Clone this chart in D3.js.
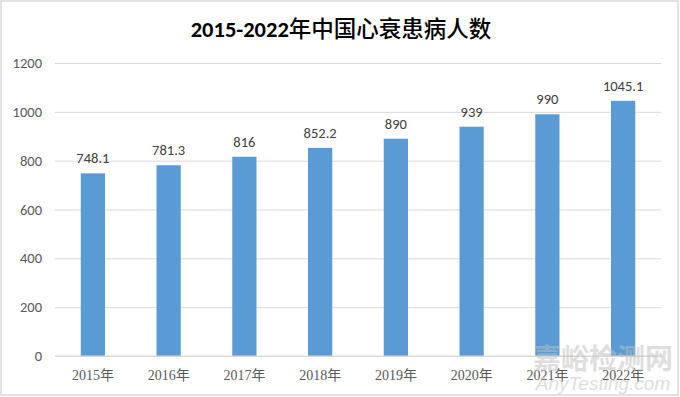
<!DOCTYPE html>
<html><head><meta charset="utf-8">
<script src="https://cdn.jsdelivr.net/npm/d3@7"></script>
<style>body{margin:0;background:#fff}svg{display:block}</style>
</head><body>
<script>
const categories = ["2015年","2016年","2017年","2018年","2019年","2020年","2021年","2022年"];
const values = [748.1, 781.3, 816, 852.2, 890, 939, 990, 1045.1];
const labels = ["748.1","781.3","816","852.2","890","939","990","1045.1"];
const yTicks = [0,200,400,600,800,1000,1200];
const titleLatin = "2015-2022";
const titleCJK = "年中国心衰患病人数";

const W = 680, H = 397;
const svg = d3.select("body").append("svg").attr("width", W).attr("height", H);
svg.append("rect").attr("x",1).attr("y",1).attr("width",W-3).attr("height",H-3)
  .attr("fill","#fff").attr("stroke","#d9d9d9").attr("stroke-width",1.5);

const fontLat = "Calibri, Carlito, 'Liberation Sans', 'Noto Sans CJK SC', sans-serif";
const x = d3.scaleBand().domain(categories).range([55, 661]).paddingInner(0.68).paddingOuter(0.34);
const y = d3.scaleLinear().domain([0,1200]).range([356, 63]);

const t = svg.append("text").attr("x", 341).attr("y", 37).attr("text-anchor","middle")
  .attr("font-size", 22.5).attr("fill","#000");
t.append("tspan").attr("font-family","Calibri, Carlito, sans-serif").attr("font-weight","bold").text(titleLatin);
t.append("tspan").attr("font-family","'Noto Sans CJK SC', sans-serif").attr("font-weight",500).text(titleCJK);

const yAxis = d3.axisLeft(y).tickValues(yTicks).tickFormat(d3.format("d")).tickSize(-(661-55)).tickPadding(13);
const gy = svg.append("g").attr("transform","translate(55,0)").call(yAxis);
gy.select(".domain").remove();
gy.selectAll(".tick line").attr("stroke","#d9d9d9").attr("stroke-width",1);
gy.selectAll(".tick text").attr("font-family", fontLat).attr("font-size",14.5).attr("fill","#595959");

svg.append("g").selectAll("rect").data(values).join("rect")
  .attr("x",(d,i)=>x(categories[i])).attr("width",x.bandwidth())
  .attr("y",d=>y(d)).attr("height",d=>y(0)-y(d)).attr("fill","#5b9bd5");

svg.append("line").attr("x1",55).attr("x2",661).attr("y1",y(0)).attr("y2",y(0))
  .attr("stroke","#d9d9d9").attr("stroke-width",1);

svg.append("g").selectAll("text").data(values).join("text")
  .attr("x",(d,i)=>x(categories[i])+x.bandwidth()/2).attr("y",d=>y(d)-10)
  .attr("text-anchor","middle").attr("font-family",fontLat).attr("font-size",14.5).attr("fill","#404040")
  .text((d,i)=>labels[i]);

const xAxis = d3.axisBottom(x).tickSize(0).tickPadding(14);
const gx = svg.append("g").attr("transform",`translate(0,${y(0)})`).call(xAxis);
gx.select(".domain").remove();
gx.selectAll(".tick text").attr("font-family","'Liberation Serif','Noto Sans CJK SC', serif").attr("font-size",14).attr("fill","#595959");

// watermark
svg.append("text").attr("x",603).attr("y",369).attr("text-anchor","middle")
  .attr("font-family","'Noto Sans CJK SC', sans-serif").attr("font-size",28).attr("font-weight","bold")
  .attr("fill","#bfbfbf").attr("opacity",0.5).text("嘉峪检测网");
svg.append("text").attr("x",603).attr("y",390).attr("text-anchor","middle")
  .attr("font-family","'Liberation Sans', sans-serif").attr("font-size",19).attr("font-style","italic")
  .attr("fill","#bfbfbf").attr("opacity",0.5).text("AnyTesting.com");
</script>
</body></html>
